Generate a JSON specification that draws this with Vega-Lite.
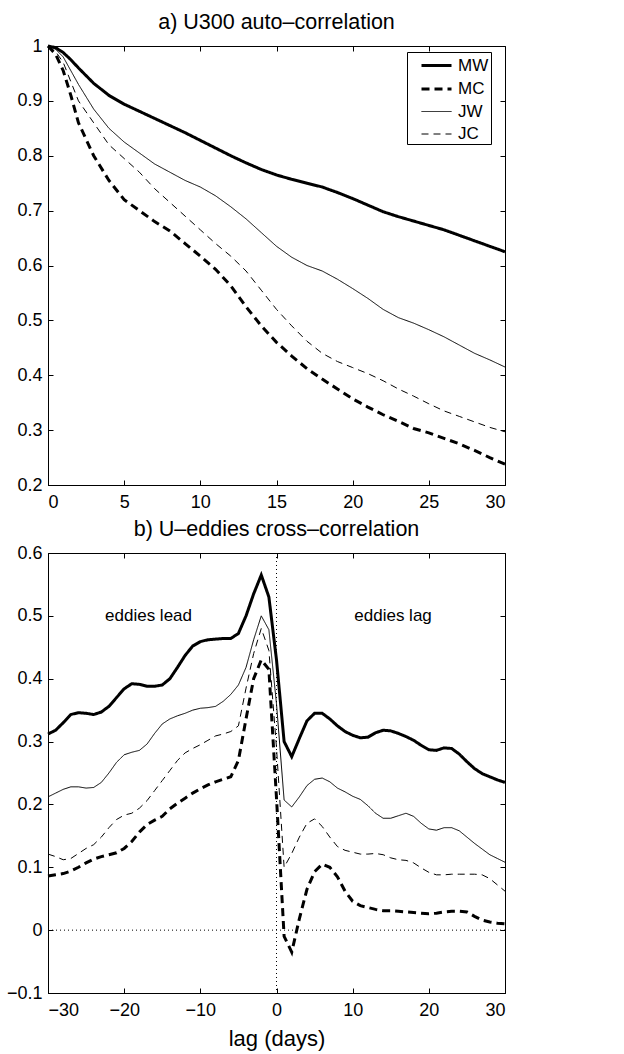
{
  "$schema": "https://vega.github.io/schema/vega-lite/v6.json",
  "padding": {"left": 5, "top": 11, "right": 5, "bottom": 1},
  "config": {
    "font": "Liberation Sans",
    "view": {"stroke": "black", "strokeWidth": 1},
    "title": {"font": "Liberation Sans", "fontSize": 21.5, "fontWeight": "normal", "color": "black", "offset": 4},
    "axis": {"domainColor": "black", "tickColor": "black", "labelColor": "black", "labelFont": "Liberation Sans", "labelFontSize": 18, "tickSize": -5, "grid": false, "titleFont": "Liberation Sans", "titleFontWeight": "normal", "titleFontSize": 22, "titleColor": "black"},
    "axisX": {"labelPadding": 13},
    "axisY": {"labelPadding": 11},
    "legend": {"labelFont": "Liberation Sans", "labelFontSize": 17, "labelColor": "black", "symbolType": "M-1.5,0H1.5", "symbolSize": 400, "symbolOffset": 16, "symbolStrokeColor": "black", "strokeColor": "black", "fillColor": "white", "padding": 2, "rowPadding": 3.5, "labelOffset": 10}
  },
  "datasets": {
    "auto": [
      {"s":"MW","lag":0,"r":1},{"s":"MW","lag":0.5,"r":0.997},{"s":"MW","lag":1,"r":0.988},{"s":"MW","lag":1.5,"r":0.975},{"s":"MW","lag":2,"r":0.96},{"s":"MW","lag":3,"r":0.932},{"s":"MW","lag":4,"r":0.91},{"s":"MW","lag":5,"r":0.894},{"s":"MW","lag":6,"r":0.881},{"s":"MW","lag":7,"r":0.868},{"s":"MW","lag":8,"r":0.855},{"s":"MW","lag":9,"r":0.842},{"s":"MW","lag":10,"r":0.828},{"s":"MW","lag":11,"r":0.814},{"s":"MW","lag":12,"r":0.8},{"s":"MW","lag":13,"r":0.787},{"s":"MW","lag":14,"r":0.775},{"s":"MW","lag":15,"r":0.765},{"s":"MW","lag":16,"r":0.757},{"s":"MW","lag":17,"r":0.75},{"s":"MW","lag":18,"r":0.743},{"s":"MW","lag":19,"r":0.733},{"s":"MW","lag":20,"r":0.722},{"s":"MW","lag":21,"r":0.71},{"s":"MW","lag":22,"r":0.698},{"s":"MW","lag":23,"r":0.689},{"s":"MW","lag":24,"r":0.681},{"s":"MW","lag":25,"r":0.673},{"s":"MW","lag":26,"r":0.665},{"s":"MW","lag":27,"r":0.655},{"s":"MW","lag":28,"r":0.645},{"s":"MW","lag":29,"r":0.635},{"s":"MW","lag":30,"r":0.625},
      {"s":"MC","lag":0,"r":1},{"s":"MC","lag":0.5,"r":0.985},{"s":"MC","lag":1,"r":0.955},{"s":"MC","lag":1.5,"r":0.91},{"s":"MC","lag":2,"r":0.86},{"s":"MC","lag":3,"r":0.8},{"s":"MC","lag":4,"r":0.755},{"s":"MC","lag":5,"r":0.72},{"s":"MC","lag":6,"r":0.7},{"s":"MC","lag":7,"r":0.68},{"s":"MC","lag":8,"r":0.663},{"s":"MC","lag":9,"r":0.64},{"s":"MC","lag":10,"r":0.617},{"s":"MC","lag":11,"r":0.593},{"s":"MC","lag":12,"r":0.563},{"s":"MC","lag":13,"r":0.525},{"s":"MC","lag":14,"r":0.49},{"s":"MC","lag":15,"r":0.46},{"s":"MC","lag":16,"r":0.435},{"s":"MC","lag":17,"r":0.412},{"s":"MC","lag":18,"r":0.393},{"s":"MC","lag":19,"r":0.375},{"s":"MC","lag":20,"r":0.357},{"s":"MC","lag":21,"r":0.342},{"s":"MC","lag":22,"r":0.328},{"s":"MC","lag":23,"r":0.316},{"s":"MC","lag":24,"r":0.303},{"s":"MC","lag":25,"r":0.295},{"s":"MC","lag":26,"r":0.285},{"s":"MC","lag":27,"r":0.275},{"s":"MC","lag":28,"r":0.263},{"s":"MC","lag":29,"r":0.25},{"s":"MC","lag":30,"r":0.238},
      {"s":"JW","lag":0,"r":1},{"s":"JW","lag":0.5,"r":0.994},{"s":"JW","lag":1,"r":0.98},{"s":"JW","lag":1.5,"r":0.955},{"s":"JW","lag":2,"r":0.93},{"s":"JW","lag":3,"r":0.885},{"s":"JW","lag":4,"r":0.85},{"s":"JW","lag":5,"r":0.825},{"s":"JW","lag":6,"r":0.805},{"s":"JW","lag":7,"r":0.785},{"s":"JW","lag":8,"r":0.77},{"s":"JW","lag":9,"r":0.755},{"s":"JW","lag":10,"r":0.743},{"s":"JW","lag":11,"r":0.727},{"s":"JW","lag":12,"r":0.707},{"s":"JW","lag":13,"r":0.685},{"s":"JW","lag":14,"r":0.66},{"s":"JW","lag":15,"r":0.635},{"s":"JW","lag":16,"r":0.615},{"s":"JW","lag":17,"r":0.6},{"s":"JW","lag":18,"r":0.59},{"s":"JW","lag":19,"r":0.575},{"s":"JW","lag":20,"r":0.558},{"s":"JW","lag":21,"r":0.54},{"s":"JW","lag":22,"r":0.52},{"s":"JW","lag":23,"r":0.505},{"s":"JW","lag":24,"r":0.495},{"s":"JW","lag":25,"r":0.483},{"s":"JW","lag":26,"r":0.47},{"s":"JW","lag":27,"r":0.455},{"s":"JW","lag":28,"r":0.44},{"s":"JW","lag":29,"r":0.428},{"s":"JW","lag":30,"r":0.415},
      {"s":"JC","lag":0,"r":1},{"s":"JC","lag":0.5,"r":0.99},{"s":"JC","lag":1,"r":0.97},{"s":"JC","lag":1.5,"r":0.935},{"s":"JC","lag":2,"r":0.9},{"s":"JC","lag":3,"r":0.86},{"s":"JC","lag":4,"r":0.82},{"s":"JC","lag":5,"r":0.795},{"s":"JC","lag":6,"r":0.77},{"s":"JC","lag":7,"r":0.74},{"s":"JC","lag":8,"r":0.715},{"s":"JC","lag":9,"r":0.69},{"s":"JC","lag":10,"r":0.665},{"s":"JC","lag":11,"r":0.64},{"s":"JC","lag":12,"r":0.617},{"s":"JC","lag":13,"r":0.59},{"s":"JC","lag":14,"r":0.555},{"s":"JC","lag":15,"r":0.52},{"s":"JC","lag":16,"r":0.49},{"s":"JC","lag":17,"r":0.462},{"s":"JC","lag":18,"r":0.44},{"s":"JC","lag":19,"r":0.425},{"s":"JC","lag":20,"r":0.414},{"s":"JC","lag":21,"r":0.403},{"s":"JC","lag":22,"r":0.39},{"s":"JC","lag":23,"r":0.375},{"s":"JC","lag":24,"r":0.362},{"s":"JC","lag":25,"r":0.348},{"s":"JC","lag":26,"r":0.335},{"s":"JC","lag":27,"r":0.325},{"s":"JC","lag":28,"r":0.315},{"s":"JC","lag":29,"r":0.305},{"s":"JC","lag":30,"r":0.297}
    ],
    "cross": [
      {"s":"MW","lag":-30,"r":0.312},{"s":"MW","lag":-29,"r":0.318},{"s":"MW","lag":-28,"r":0.33},{"s":"MW","lag":-27,"r":0.343},{"s":"MW","lag":-26,"r":0.346},{"s":"MW","lag":-25,"r":0.345},{"s":"MW","lag":-24,"r":0.343},{"s":"MW","lag":-23,"r":0.347},{"s":"MW","lag":-22,"r":0.356},{"s":"MW","lag":-21,"r":0.37},{"s":"MW","lag":-20,"r":0.384},{"s":"MW","lag":-19,"r":0.392},{"s":"MW","lag":-18,"r":0.391},{"s":"MW","lag":-17,"r":0.388},{"s":"MW","lag":-16,"r":0.388},{"s":"MW","lag":-15,"r":0.39},{"s":"MW","lag":-14,"r":0.4},{"s":"MW","lag":-13,"r":0.418},{"s":"MW","lag":-12,"r":0.437},{"s":"MW","lag":-11,"r":0.452},{"s":"MW","lag":-10,"r":0.459},{"s":"MW","lag":-9,"r":0.462},{"s":"MW","lag":-8,"r":0.463},{"s":"MW","lag":-7,"r":0.464},{"s":"MW","lag":-6,"r":0.464},{"s":"MW","lag":-5,"r":0.472},{"s":"MW","lag":-4,"r":0.5},{"s":"MW","lag":-3,"r":0.535},{"s":"MW","lag":-2,"r":0.565},{"s":"MW","lag":-1,"r":0.53},{"s":"MW","lag":0,"r":0.43},{"s":"MW","lag":1,"r":0.3},{"s":"MW","lag":2,"r":0.276},{"s":"MW","lag":3,"r":0.305},{"s":"MW","lag":4,"r":0.333},{"s":"MW","lag":5,"r":0.345},{"s":"MW","lag":6,"r":0.345},{"s":"MW","lag":7,"r":0.336},{"s":"MW","lag":8,"r":0.325},{"s":"MW","lag":9,"r":0.316},{"s":"MW","lag":10,"r":0.31},{"s":"MW","lag":11,"r":0.306},{"s":"MW","lag":12,"r":0.307},{"s":"MW","lag":13,"r":0.314},{"s":"MW","lag":14,"r":0.318},{"s":"MW","lag":15,"r":0.317},{"s":"MW","lag":16,"r":0.313},{"s":"MW","lag":17,"r":0.308},{"s":"MW","lag":18,"r":0.302},{"s":"MW","lag":19,"r":0.294},{"s":"MW","lag":20,"r":0.287},{"s":"MW","lag":21,"r":0.286},{"s":"MW","lag":22,"r":0.29},{"s":"MW","lag":23,"r":0.289},{"s":"MW","lag":24,"r":0.28},{"s":"MW","lag":25,"r":0.268},{"s":"MW","lag":26,"r":0.257},{"s":"MW","lag":27,"r":0.249},{"s":"MW","lag":28,"r":0.244},{"s":"MW","lag":29,"r":0.239},{"s":"MW","lag":30,"r":0.235},
      {"s":"JW","lag":-30,"r":0.212},{"s":"JW","lag":-29,"r":0.218},{"s":"JW","lag":-28,"r":0.224},{"s":"JW","lag":-27,"r":0.228},{"s":"JW","lag":-26,"r":0.228},{"s":"JW","lag":-25,"r":0.226},{"s":"JW","lag":-24,"r":0.227},{"s":"JW","lag":-23,"r":0.235},{"s":"JW","lag":-22,"r":0.25},{"s":"JW","lag":-21,"r":0.267},{"s":"JW","lag":-20,"r":0.279},{"s":"JW","lag":-19,"r":0.283},{"s":"JW","lag":-18,"r":0.286},{"s":"JW","lag":-17,"r":0.296},{"s":"JW","lag":-16,"r":0.313},{"s":"JW","lag":-15,"r":0.328},{"s":"JW","lag":-14,"r":0.336},{"s":"JW","lag":-13,"r":0.341},{"s":"JW","lag":-12,"r":0.345},{"s":"JW","lag":-11,"r":0.35},{"s":"JW","lag":-10,"r":0.353},{"s":"JW","lag":-9,"r":0.354},{"s":"JW","lag":-8,"r":0.356},{"s":"JW","lag":-7,"r":0.364},{"s":"JW","lag":-6,"r":0.375},{"s":"JW","lag":-5,"r":0.39},{"s":"JW","lag":-4,"r":0.418},{"s":"JW","lag":-3,"r":0.462},{"s":"JW","lag":-2,"r":0.5},{"s":"JW","lag":-1,"r":0.478},{"s":"JW","lag":0,"r":0.36},{"s":"JW","lag":1,"r":0.207},{"s":"JW","lag":2,"r":0.196},{"s":"JW","lag":3,"r":0.212},{"s":"JW","lag":4,"r":0.23},{"s":"JW","lag":5,"r":0.24},{"s":"JW","lag":6,"r":0.242},{"s":"JW","lag":7,"r":0.236},{"s":"JW","lag":8,"r":0.226},{"s":"JW","lag":9,"r":0.22},{"s":"JW","lag":10,"r":0.213},{"s":"JW","lag":11,"r":0.208},{"s":"JW","lag":12,"r":0.198},{"s":"JW","lag":13,"r":0.186},{"s":"JW","lag":14,"r":0.178},{"s":"JW","lag":15,"r":0.178},{"s":"JW","lag":16,"r":0.182},{"s":"JW","lag":17,"r":0.186},{"s":"JW","lag":18,"r":0.181},{"s":"JW","lag":19,"r":0.17},{"s":"JW","lag":20,"r":0.161},{"s":"JW","lag":21,"r":0.159},{"s":"JW","lag":22,"r":0.163},{"s":"JW","lag":23,"r":0.163},{"s":"JW","lag":24,"r":0.158},{"s":"JW","lag":25,"r":0.148},{"s":"JW","lag":26,"r":0.138},{"s":"JW","lag":27,"r":0.129},{"s":"JW","lag":28,"r":0.12},{"s":"JW","lag":29,"r":0.114},{"s":"JW","lag":30,"r":0.108},
      {"s":"JC","lag":-30,"r":0.121},{"s":"JC","lag":-29,"r":0.117},{"s":"JC","lag":-28,"r":0.112},{"s":"JC","lag":-27,"r":0.114},{"s":"JC","lag":-26,"r":0.122},{"s":"JC","lag":-25,"r":0.13},{"s":"JC","lag":-24,"r":0.136},{"s":"JC","lag":-23,"r":0.148},{"s":"JC","lag":-22,"r":0.163},{"s":"JC","lag":-21,"r":0.176},{"s":"JC","lag":-20,"r":0.183},{"s":"JC","lag":-19,"r":0.186},{"s":"JC","lag":-18,"r":0.194},{"s":"JC","lag":-17,"r":0.206},{"s":"JC","lag":-16,"r":0.222},{"s":"JC","lag":-15,"r":0.238},{"s":"JC","lag":-14,"r":0.254},{"s":"JC","lag":-13,"r":0.27},{"s":"JC","lag":-12,"r":0.282},{"s":"JC","lag":-11,"r":0.289},{"s":"JC","lag":-10,"r":0.295},{"s":"JC","lag":-9,"r":0.302},{"s":"JC","lag":-8,"r":0.309},{"s":"JC","lag":-7,"r":0.312},{"s":"JC","lag":-6,"r":0.316},{"s":"JC","lag":-5,"r":0.325},{"s":"JC","lag":-4,"r":0.385},{"s":"JC","lag":-3,"r":0.44},{"s":"JC","lag":-2,"r":0.48},{"s":"JC","lag":-1,"r":0.445},{"s":"JC","lag":0,"r":0.29},{"s":"JC","lag":1,"r":0.1},{"s":"JC","lag":2,"r":0.122},{"s":"JC","lag":3,"r":0.148},{"s":"JC","lag":4,"r":0.17},{"s":"JC","lag":5,"r":0.177},{"s":"JC","lag":6,"r":0.165},{"s":"JC","lag":7,"r":0.148},{"s":"JC","lag":8,"r":0.133},{"s":"JC","lag":9,"r":0.127},{"s":"JC","lag":10,"r":0.124},{"s":"JC","lag":11,"r":0.121},{"s":"JC","lag":12,"r":0.121},{"s":"JC","lag":13,"r":0.122},{"s":"JC","lag":14,"r":0.12},{"s":"JC","lag":15,"r":0.115},{"s":"JC","lag":16,"r":0.112},{"s":"JC","lag":17,"r":0.111},{"s":"JC","lag":18,"r":0.107},{"s":"JC","lag":19,"r":0.099},{"s":"JC","lag":20,"r":0.092},{"s":"JC","lag":21,"r":0.088},{"s":"JC","lag":22,"r":0.088},{"s":"JC","lag":23,"r":0.089},{"s":"JC","lag":24,"r":0.089},{"s":"JC","lag":25,"r":0.089},{"s":"JC","lag":26,"r":0.089},{"s":"JC","lag":27,"r":0.088},{"s":"JC","lag":28,"r":0.082},{"s":"JC","lag":29,"r":0.072},{"s":"JC","lag":30,"r":0.062},
      {"s":"MC","lag":-30,"r":0.086},{"s":"MC","lag":-29,"r":0.088},{"s":"MC","lag":-28,"r":0.09},{"s":"MC","lag":-27,"r":0.094},{"s":"MC","lag":-26,"r":0.1},{"s":"MC","lag":-25,"r":0.107},{"s":"MC","lag":-24,"r":0.113},{"s":"MC","lag":-23,"r":0.117},{"s":"MC","lag":-22,"r":0.12},{"s":"MC","lag":-21,"r":0.123},{"s":"MC","lag":-20,"r":0.13},{"s":"MC","lag":-19,"r":0.141},{"s":"MC","lag":-18,"r":0.156},{"s":"MC","lag":-17,"r":0.168},{"s":"MC","lag":-16,"r":0.175},{"s":"MC","lag":-15,"r":0.181},{"s":"MC","lag":-14,"r":0.193},{"s":"MC","lag":-13,"r":0.202},{"s":"MC","lag":-12,"r":0.21},{"s":"MC","lag":-11,"r":0.218},{"s":"MC","lag":-10,"r":0.225},{"s":"MC","lag":-9,"r":0.231},{"s":"MC","lag":-8,"r":0.236},{"s":"MC","lag":-7,"r":0.24},{"s":"MC","lag":-6,"r":0.244},{"s":"MC","lag":-5,"r":0.27},{"s":"MC","lag":-4,"r":0.336},{"s":"MC","lag":-3,"r":0.4},{"s":"MC","lag":-2,"r":0.43},{"s":"MC","lag":-1,"r":0.415},{"s":"MC","lag":0,"r":0.21},{"s":"MC","lag":1,"r":-0.01},{"s":"MC","lag":2,"r":-0.035},{"s":"MC","lag":3,"r":0.018},{"s":"MC","lag":4,"r":0.065},{"s":"MC","lag":5,"r":0.093},{"s":"MC","lag":6,"r":0.105},{"s":"MC","lag":7,"r":0.1},{"s":"MC","lag":8,"r":0.085},{"s":"MC","lag":9,"r":0.062},{"s":"MC","lag":10,"r":0.046},{"s":"MC","lag":11,"r":0.039},{"s":"MC","lag":12,"r":0.036},{"s":"MC","lag":13,"r":0.033},{"s":"MC","lag":14,"r":0.031},{"s":"MC","lag":15,"r":0.031},{"s":"MC","lag":16,"r":0.03},{"s":"MC","lag":17,"r":0.029},{"s":"MC","lag":18,"r":0.028},{"s":"MC","lag":19,"r":0.027},{"s":"MC","lag":20,"r":0.026},{"s":"MC","lag":21,"r":0.027},{"s":"MC","lag":22,"r":0.029},{"s":"MC","lag":23,"r":0.03},{"s":"MC","lag":24,"r":0.03},{"s":"MC","lag":25,"r":0.029},{"s":"MC","lag":26,"r":0.022},{"s":"MC","lag":27,"r":0.016},{"s":"MC","lag":28,"r":0.013},{"s":"MC","lag":29,"r":0.011},{"s":"MC","lag":30,"r":0.01}
    ],
    "notes": [
      {"lag": -16.8, "r": 0.5, "label": "eddies lead"},
      {"lag": 15.3, "r": 0.5, "label": "eddies lag"}
    ]
  },
  "spacing": 6,
  "resolve": {
    "scale": {"strokeDash": "independent", "strokeWidth": "independent"},
    "legend": {"strokeDash": "independent", "strokeWidth": "independent"}
  },
  "vconcat": [
    {
      "title": {"text": "a) U300 auto–correlation"},
      "width": 457,
      "height": 439,
      "data": {"name": "auto"},
      "layer": [
        {
          "mark": {"type": "line", "color": "black", "strokeCap": "butt"},
          "encoding": {
            "x": {"field": "lag", "type": "quantitative", "scale": {"domain": [0, 30], "nice": false}, "axis": {"orient": "bottom", "values": [0, 5, 10, 15, 20, 25, 30], "title": null}},
            "y": {"field": "r", "type": "quantitative", "scale": {"domain": [0.2, 1], "nice": false, "zero": false}, "axis": {"orient": "left", "values": [0.2, 0.3, 0.4, 0.5, 0.6, 0.7, 0.8, 0.9, 1], "format": "~g", "title": null}},
            "strokeDash": {"field": "s", "type": "nominal", "scale": {"domain": ["MW", "MC", "JW", "JC"], "range": [[1, 0], [8, 5], [1, 0], [7, 5]]}, "legend": {"title": null, "orient": "none", "legendX": 359, "legendY": 6}},
            "strokeWidth": {"field": "s", "type": "nominal", "scale": {"type": "ordinal", "domain": ["MW", "MC", "JW", "JC"], "range": [3, 3, 1, 1]}, "legend": {"title": null, "orient": "none", "legendX": 359, "legendY": 6}}
          }
        },
        {
          "mark": {"type": "point", "opacity": 0},
          "encoding": {
            "x": {"field": "lag", "type": "quantitative", "axis": {"orient": "top", "values": [0, 5, 10, 15, 20, 25, 30], "labels": false, "title": null, "domain": false}},
            "y": {"field": "r", "type": "quantitative", "axis": {"orient": "right", "values": [0.2, 0.3, 0.4, 0.5, 0.6, 0.7, 0.8, 0.9, 1], "labels": false, "title": null, "domain": false}}
          }
        }
      ],
      "resolve": {"axis": {"x": "independent", "y": "independent"}}
    },
    {
      "title": {"text": "b) U–eddies cross–correlation"},
      "width": 457,
      "height": 440,
      "data": {"name": "cross"},
      "layer": [
        {
          "data": {"values": [{"z": 0}]},
          "mark": {"type": "rule", "color": "black", "strokeDash": [1, 3], "strokeWidth": 1},
          "encoding": {"x": {"field": "z", "type": "quantitative", "axis": null}}
        },
        {
          "data": {"values": [{"z": 0}]},
          "mark": {"type": "rule", "color": "black", "strokeDash": [1, 3], "strokeWidth": 1},
          "encoding": {"y": {"field": "z", "type": "quantitative", "axis": null}}
        },
        {
          "mark": {"type": "line", "color": "black", "strokeCap": "butt"},
          "encoding": {
            "x": {"field": "lag", "type": "quantitative", "scale": {"domain": [-30, 30], "nice": false}, "axis": {"orient": "bottom", "values": [-30, -20, -10, 0, 10, 20, 30], "title": "lag (days)", "titlePadding": 9}},
            "y": {"field": "r", "type": "quantitative", "scale": {"domain": [-0.1, 0.6], "nice": false, "zero": false}, "axis": {"orient": "left", "values": [-0.1, 0, 0.1, 0.2, 0.3, 0.4, 0.5, 0.6], "format": "~g", "title": null}},
            "strokeDash": {"field": "s", "type": "nominal", "scale": {"domain": ["MW", "MC", "JW", "JC"], "range": [[1, 0], [8, 5], [1, 0], [7, 5]]}, "legend": null},
            "strokeWidth": {"field": "s", "type": "nominal", "scale": {"type": "ordinal", "domain": ["MW", "MC", "JW", "JC"], "range": [3, 3, 1, 1]}, "legend": null}
          }
        },
        {
          "data": {"name": "notes"},
          "mark": {"type": "text", "fontSize": 17, "font": "Liberation Sans", "color": "black", "align": "center", "baseline": "middle"},
          "encoding": {
            "x": {"field": "lag", "type": "quantitative", "axis": null},
            "y": {"field": "r", "type": "quantitative", "axis": null},
            "text": {"field": "label"}
          }
        },
        {
          "mark": {"type": "point", "opacity": 0},
          "encoding": {
            "x": {"field": "lag", "type": "quantitative", "axis": {"orient": "top", "values": [-30, -20, -10, 0, 10, 20, 30], "labels": false, "title": null, "domain": false}},
            "y": {"field": "r", "type": "quantitative", "axis": {"orient": "right", "values": [-0.1, 0, 0.1, 0.2, 0.3, 0.4, 0.5, 0.6], "labels": false, "title": null, "domain": false}}
          }
        }
      ],
      "resolve": {"axis": {"x": "independent", "y": "independent"}}
    }
  ]
}
